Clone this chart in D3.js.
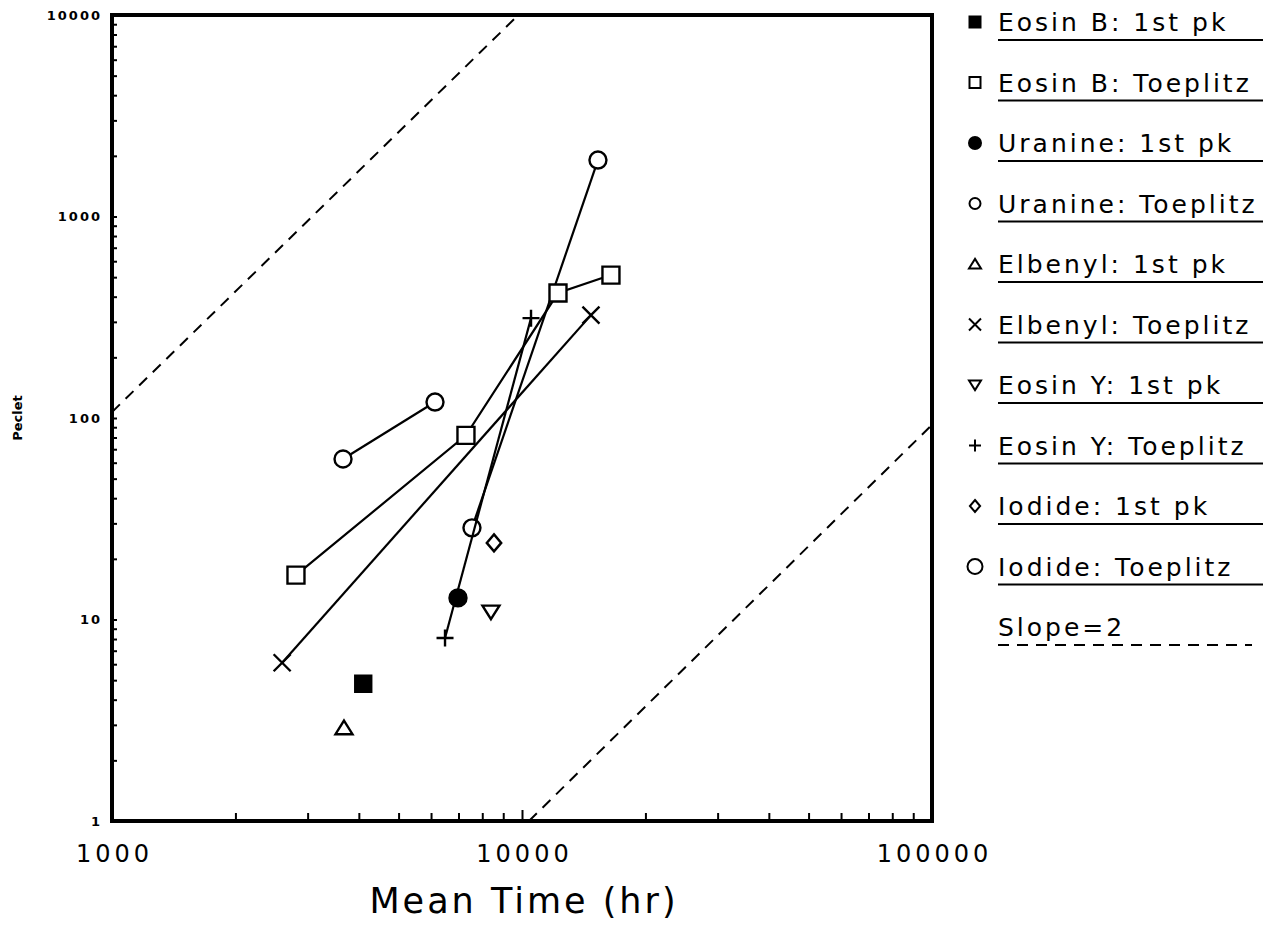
<!DOCTYPE html>
<html>
<head>
<meta charset="utf-8">
<script src="https://cdn.jsdelivr.net/npm/d3@7"></script>
<style>
  body { margin: 0; background: #fff; }
  text { font-family: "DejaVu Sans", sans-serif; fill: #000; }
</style>
</head>
<body>
<div id="chart"></div>
<script>
// series (Mean Time in hr, Peclet number)
const seriesNames = [
  "Eosin B: 1st pk", "Eosin B: Toeplitz", "Uranine: 1st pk", "Uranine: Toeplitz",
  "Elbenyl: 1st pk", "Elbenyl: Toeplitz", "Eosin Y: 1st pk", "Eosin Y: Toeplitz",
  "Iodide: 1st pk", "Iodide: Toeplitz"
];
const seriesX = [
  [4100], [2810, 7300, 12240, 16480], [6980], [7550, 15320],
  [3680], [2600, 14730], [8400], [6490, 10520],
  [8545], [3660, 6135]
];
const seriesY = [
  [4.8], [16.6, 82, 417, 512], [12.8], [28.5, 1906],
  [2.9], [6.1, 324], [10.9], [8.1, 313],
  [24], [62.6, 120]
];
const seriesSymbol = [
  "squareFilled", "square", "circleFilled", "circle",
  "triangle", "x", "triangleDown", "plus",
  "diamond", "circleBig"
];
// lines drawn over the markers (crosses the open circle in the original)
const lineOnTop = ["Eosin Y: Toeplitz"];

// slope = 2 reference lines
const slopeX = [[1000, 9800], [10400, 100000]];
const slopeY = [[107, 10000], [1, 92.5]];

const xLabels = [1000, 10000, 100000];
const yLabels = [1, 10, 100, 1000, 10000];

const width = 1272, height = 926;
const plot = { left: 112, right: 932, top: 15, bottom: 821 };

const svg = d3.select("#chart").append("svg")
  .attr("width", width)
  .attr("height", height);

const x = d3.scaleLog().domain([1000, 100000]).range([plot.left, plot.right]);
const y = d3.scaleLog().domain([1, 10000]).range([plot.bottom, plot.top]);

// marker shapes around (0,0)
function symbolPath(type, s) {
  const h = s / 2;
  switch (type) {
    case "square":
    case "squareFilled":
      return `M${-h},${-h}H${h}V${h}H${-h}Z`;
    case "circle":
    case "circleFilled":
    case "circleBig":
      return `M${-h},0A${h},${h} 0 1,0 ${h},0A${h},${h} 0 1,0 ${-h},0Z`;
    case "triangle":
      return `M0,${-h * 0.85}L${h},${h * 0.75}L${-h},${h * 0.75}Z`;
    case "triangleDown":
      return `M0,${h * 0.85}L${h},${-h * 0.75}L${-h},${-h * 0.75}Z`;
    case "diamond":
      return `M0,${-h}L${h * 0.85},0L0,${h}L${-h * 0.85},0Z`;
    case "x":
      return `M${-h},${-h}L${h},${h}M${h},${-h}L${-h},${h}`;
    case "plus":
      return `M${-h},0H${h}M0,${-h}V${h}`;
  }
}
const filled = t => t === "squareFilled" || t === "circleFilled";
const openFill = t => (t === "x" || t === "plus") ? "none" : "#fff";

const series = seriesNames.map((name, i) => ({
  name,
  symbol: seriesSymbol[i],
  points: seriesX[i].map((v, j) => ({ x: v, y: seriesY[i][j] }))
}));

// ticks, inward, on left and bottom only
const xTicks = x.ticks().filter(v => v > 1000 && v < 100000);
const yTicks = y.ticks().filter(v => v > 1 && v < 10000);

svg.append("g")
  .attr("transform", `translate(0,${plot.bottom})`)
  .call(d3.axisBottom(x).tickValues(xTicks).tickSizeInner(-8).tickSizeOuter(0).tickFormat(""))
  .call(g => g.select(".domain").remove())
  .call(g => g.selectAll(".tick line").attr("stroke-width", 2)
    .attr("y2", d => d === 10000 ? -11 : -8));

svg.append("g")
  .attr("transform", `translate(${plot.left},0)`)
  .call(d3.axisLeft(y).tickValues(yTicks).tickSizeInner(-5).tickSizeOuter(0).tickFormat(""))
  .call(g => g.select(".domain").remove())
  .call(g => g.selectAll(".tick line").attr("stroke-width", 2));

// tick labels
svg.append("g")
  .attr("transform", `translate(0,${plot.bottom})`)
  .call(d3.axisBottom(x).tickValues(xLabels).tickSize(0).tickPadding(24).tickFormat(d3.format("d")))
  .call(g => g.select(".domain").remove())
  .call(g => g.selectAll("text")
    .attr("font-family", "DejaVu Sans").attr("font-size", 24)
    .attr("letter-spacing", 4).attr("dx", 2));

svg.append("g")
  .attr("transform", `translate(${plot.left},0)`)
  .call(d3.axisLeft(y).tickValues(yLabels).tickSize(0).tickPadding(10).tickFormat(d3.format("d")))
  .call(g => g.select(".domain").remove())
  .call(g => g.selectAll("text")
    .attr("font-family", "DejaVu Sans").attr("font-size", 13).attr("font-weight", "bold")
    .attr("letter-spacing", 2));

// axis titles
svg.append("text")
  .attr("x", (plot.left + plot.right) / 2 + 2)
  .attr("y", 913)
  .attr("text-anchor", "middle")
  .attr("font-size", 35)
  .attr("letter-spacing", 3)
  .text("Mean Time (hr)");

svg.append("text")
  .attr("transform", `translate(22,${(plot.top + plot.bottom) / 2}) rotate(-90)`)
  .attr("text-anchor", "middle")
  .attr("font-size", 13)
  .attr("font-weight", "bold")
  .text("Peclet");

// plot clip for the dashed lines
svg.append("clipPath").attr("id", "clip")
  .append("rect")
  .attr("x", plot.left).attr("y", plot.top)
  .attr("width", plot.right - plot.left).attr("height", plot.bottom - plot.top);

const line = d3.line().x(d => x(d.x)).y(d => y(d.y));

svg.append("g").attr("clip-path", "url(#clip)")
  .selectAll("path")
  .data(slopeX.map((xs, i) => xs.map((v, j) => ({ x: v, y: slopeY[i][j] }))))
  .join("path")
  .attr("d", line)
  .attr("fill", "none")
  .attr("stroke", "#000")
  .attr("stroke-width", 2)
  .attr("stroke-dasharray", "11,8");

const connected = series.filter(s => s.points.length > 1);

svg.append("g")
  .selectAll("path")
  .data(connected.filter(s => !lineOnTop.includes(s.name)))
  .join("path")
  .attr("d", d => line(d.points))
  .attr("fill", "none")
  .attr("stroke", "#000")
  .attr("stroke-width", 2.2);

const markerSize = { circle: 17, circleBig: 17, circleFilled: 17, squareFilled: 16, square: 17 };

series.forEach(s => {
  svg.append("g")
    .selectAll("path")
    .data(s.points)
    .join("path")
    .attr("transform", d => `translate(${x(d.x)},${y(d.y)})`)
    .attr("d", symbolPath(s.symbol, markerSize[s.symbol] || 17))
    .attr("fill", filled(s.symbol) ? "#000" : openFill(s.symbol))
    .attr("stroke", "#000")
    .attr("stroke-width", 2.4);
});

svg.append("g")
  .selectAll("path")
  .data(connected.filter(s => lineOnTop.includes(s.name)))
  .join("path")
  .attr("d", d => line(d.points))
  .attr("fill", "none")
  .attr("stroke", "#000")
  .attr("stroke-width", 2.2);

// frame
svg.append("rect")
  .attr("x", plot.left).attr("y", plot.top)
  .attr("width", plot.right - plot.left).attr("height", plot.bottom - plot.top)
  .attr("fill", "none")
  .attr("stroke", "#000")
  .attr("stroke-width", 4);

// legend
const legendNames = seriesNames.concat(["Slope=2"]);
const legendBase = 31, legendStep = 60.5;
const legendSize = { circleBig: 15, circle: 11, circleFilled: 12, squareFilled: 11, square: 11 };

const legend = svg.append("g")
  .selectAll("g")
  .data(legendNames)
  .join("g")
  .attr("transform", (d, i) => `translate(0,${legendBase + i * legendStep})`);

legend.append("text")
  .attr("x", 998)
  .attr("font-size", 25)
  .attr("letter-spacing", 3)
  .text(d => d);

legend.append("line")
  .attr("x1", 998).attr("x2", (d, i) => i < seriesNames.length ? 1263 : 1252)
  .attr("y1", 9).attr("y2", 9)
  .attr("stroke", "#000")
  .attr("stroke-width", 2)
  .attr("stroke-dasharray", (d, i) => i < seriesNames.length ? null : "11,8");

legend.filter((d, i) => i < seriesNames.length)
  .append("path")
  .attr("transform", "translate(975,-9)")
  .attr("d", (d, i) => symbolPath(seriesSymbol[i], legendSize[seriesSymbol[i]] || 12))
  .attr("fill", (d, i) => filled(seriesSymbol[i]) ? "#000" : openFill(seriesSymbol[i]))
  .attr("stroke", "#000")
  .attr("stroke-width", 2);
</script>
</body>
</html>
